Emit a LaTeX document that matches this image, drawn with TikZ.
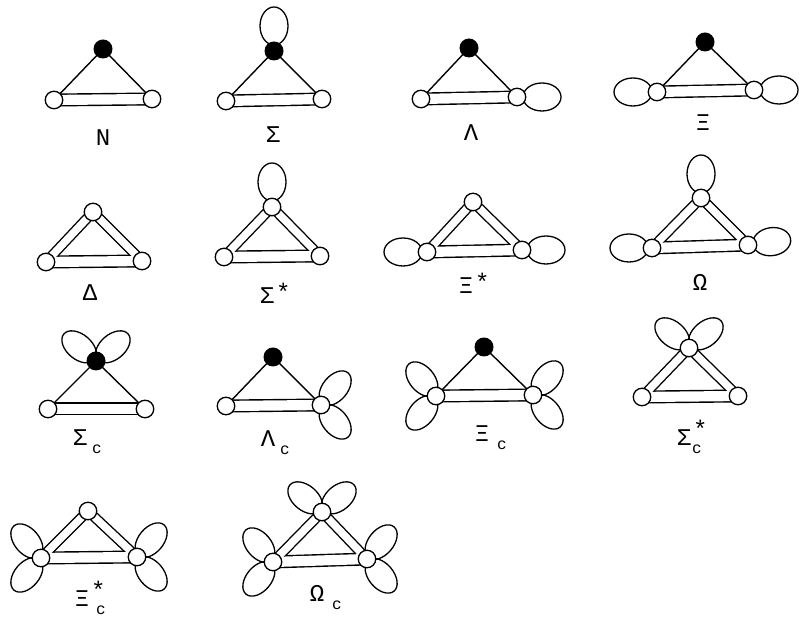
\documentclass[tikz,border=0pt]{standalone}
\usepackage{fontspec}
\newfontfamily\lblfont{Liberation Mono}
\usetikzlibrary{backgrounds, calc, shapes.geometric}
\newcommand{\lowc}[1][5pt]{\rlap{\raisebox{-8pt}{\fontsize{16}{16}\selectfont\hspace{#1}c}}}
\newcommand{\topstar}[1][3pt]{\rlap{\raisebox{#1}{\hspace{2pt}*}}}

\begin{document}
\begin{tikzpicture}[
    x=1pt, y=1pt,
    fullvtx/.style={circle, fill=black, minimum size=19pt, inner sep=0pt},
    openvtx/.style={circle, draw, fill=white, line width=1.3pt,
                    minimum size=17.5pt, inner sep=0pt},
    baseout/.style={line width=13pt, black},
    basein/.style={line width=10.2pt, white},
    sideout/.style={line width=10.4pt, black},
    sidein/.style={line width=7.6pt, white},
    single/.style={line width=1.4pt},
    bigloop/.style={ellipse, draw, line width=1.3pt,
                    minimum width=38pt, minimum height=28pt, inner sep=0pt},
    petal/.style={ellipse, draw, line width=1.3pt,
                  minimum width=40pt, minimum height=25pt, inner sep=0pt},
    lbl/.style={font=\lblfont\fontsize{24}{28}\selectfont, inner sep=0pt}
  ]
  \useasboundingbox (0,0) rectangle (799,617);

  % row 1
  \node[fullvtx] (nucT) at (103,568) {};
  \node[openvtx] (nucL) at (54,517) {};
  \node[openvtx] (nucR) at (152,518) {};
  \node[lbl] (nucLbl) at (103,479) {N};

  \node[fullvtx] (sigT) at (274,566) {};
  \node[openvtx] (sigL) at (226,516) {};
  \node[openvtx] (sigR) at (322,518) {};
  \node[lbl] (sigLbl) at (273,482) {Σ};

  \node[fullvtx] (lamT) at (469,569) {};
  \node[openvtx] (lamL) at (421,518) {};
  \node[openvtx] (lamR) at (517,520) {};
  \node[lbl] (lamLbl) at (471,484) {Λ};

  \node[fullvtx] (xiT) at (705,575) {};
  \node[openvtx] (xiL) at (657,525) {};
  \node[openvtx] (xiR) at (754,527) {};
  \node[lbl] (xiLbl) at (703,494) {Ξ};

  % row 2
  \node[openvtx] (delT) at (93,405) {};
  \node[openvtx] (delL) at (46,355) {};
  \node[openvtx] (delR) at (142,356) {};
  \node[lbl] (delLbl) at (90,324) {Δ};

  \node[openvtx] (sigsT) at (272,410) {};
  \node[openvtx] (sigsL) at (224,360) {};
  \node[openvtx] (sigsR) at (320,361) {};
  \node[lbl] (sigsLbl) at (267,324) {Σ\topstar};

  \node[openvtx] (xisT) at (473,415) {};
  \node[openvtx] (xisL) at (427,365) {};
  \node[openvtx] (xisR) at (522,367) {};
  \node[lbl] (xisLbl) at (466,334) {Ξ\topstar};

  \node[openvtx] (omT) at (701,419) {};
  \node[openvtx] (omL) at (652,369) {};
  \node[openvtx] (omR) at (748,372) {};
  \node[lbl] (omLbl) at (700,335) {Ω};

  % row 3
  \node[fullvtx] (sigcT) at (96,256) {};
  \node[openvtx] (sigcL) at (48,208) {};
  \node[openvtx] (sigcR) at (145,208) {};
  \node[lbl] (sigcLbl) at (80,175) {Σ\lowc};

  \node[fullvtx] (lamcT) at (273,260) {};
  \node[openvtx] (lamcL) at (226,211) {};
  \node[openvtx] (lamcR) at (321,212) {};
  \node[lbl] (lamcLbl) at (268,174) {Λ\lowc};

  \node[fullvtx] (xicT) at (484,270) {};
  \node[openvtx] (xicL) at (436,221) {};
  \node[openvtx] (xicR) at (533,222) {};
  \node[lbl] (xicLbl) at (482,179) {Ξ\lowc[8pt]};

  \node[openvtx] (sigcsT) at (689,269) {};
  \node[openvtx] (sigcsL) at (642,220) {};
  \node[openvtx] (sigcsR) at (738,221) {};
  \node[lbl] (sigcsLbl) at (684,180) {Σ\lowc[1pt]\topstar[8pt]};

  % row 4
  \node[openvtx] (xicsT) at (88,106) {};
  \node[openvtx] (xicsL) at (41,59) {};
  \node[openvtx] (xicsR) at (137,60) {};
  \node[lbl] (xicsLbl) at (82,19) {Ξ\lowc[7pt]\topstar[8pt]};

  \node[openvtx] (omcT) at (322,105) {};
  \node[openvtx] (omcL) at (273,55) {};
  \node[openvtx] (omcR) at (367,58) {};
  \node[lbl] (omcLbl) at (317,19) {Ω\lowc[8pt]};

  \begin{scope}[on background layer]
    % double bars: black first, white inside after
    \foreach \d in {nuc,sig,lam,xi,del,sigs,xis,om,sigc,lamc,xic,sigcs,xics,omc}
      \draw[baseout] (\d L.center) -- (\d R.center);
    \foreach \d in {del,sigs,xis,om,sigcs,xics,omc}
      \draw[sideout] (\d L.center) -- (\d T.center) -- (\d R.center);
    \foreach \d in {nuc,sig,lam,xi,del,sigs,xis,om,sigc,lamc,xic,sigcs,xics,omc}
      \draw[basein] (\d L.center) -- (\d R.center);
    \foreach \d in {del,sigs,xis,om,sigcs,xics,omc}
      \draw[sidein] (\d L.center) -- (\d T.center) -- (\d R.center);
    % single lines to the black dot
    \foreach \d in {nuc,sig,lam,xi,sigc,lamc,xic}
      \draw[single] (\d L.center) -- (\d T.center) -- (\d R.center);

    % loops
    \node[bigloop, rotate=90] (sigLoop) at ($(sigT)+(90:25)$) {};
    \node[bigloop] (lamLoop) at ($(lamR)+(0:25)$) {};
    \node[bigloop] (xiLoopL) at ($(xiL)+(180:24)$) {};
    \node[bigloop] (xiLoopR) at ($(xiR)+(0:25)$) {};
    \node[bigloop, rotate=90] (sigsLoop) at ($(sigsT)+(90:25)$) {};
    \node[bigloop] (xisLoopL) at ($(xisL)+(180:24)$) {};
    \node[bigloop] (xisLoopR) at ($(xisR)+(0:24)$) {};
    \node[bigloop, rotate=90] (omLoopT) at ($(omT)+(90:24)$) {};
    \node[bigloop] (omLoopL) at ($(omL)+(180:23)$) {};
    \node[bigloop, rotate=8] (omLoopR) at ($(omR)+(8:24)$) {};

    % petals
    \foreach \a in {40,140}
      \node[petal, rotate=\a] (sigcP\a) at ($(sigcT)+(\a:22)$) {};
    \foreach \a in {50,-50}
      \node[petal, rotate=\a] (lamcP\a) at ($(lamcR)+(\a:22)$) {};
    \foreach \a in {130,230}
      \node[petal, rotate=\a] (xicPL\a) at ($(xicL)+(\a:22)$) {};
    \foreach \a in {50,-50}
      \node[petal, rotate=\a] (xicPR\a) at ($(xicR)+(\a:22)$) {};
    \foreach \a in {40,140}
      \node[petal, rotate=\a] (sigcsP\a) at ($(sigcsT)+(\a:22)$) {};
    \foreach \a in {130,230}
      \node[petal, rotate=\a] (xicsPL\a) at ($(xicsL)+(\a:22)$) {};
    \foreach \a in {50,-50}
      \node[petal, rotate=\a] (xicsPR\a) at ($(xicsR)+(\a:22)$) {};
    \foreach \a in {40,140}
      \node[petal, rotate=\a] (omcPT\a) at ($(omcT)+(\a:22)$) {};
    \foreach \a in {130,230}
      \node[petal, rotate=\a] (omcPL\a) at ($(omcL)+(\a:22)$) {};
    \foreach \a in {50,-50}
      \node[petal, rotate=\a] (omcPR\a) at ($(omcR)+(\a:22)$) {};
  \end{scope}
\end{tikzpicture}
\end{document}
